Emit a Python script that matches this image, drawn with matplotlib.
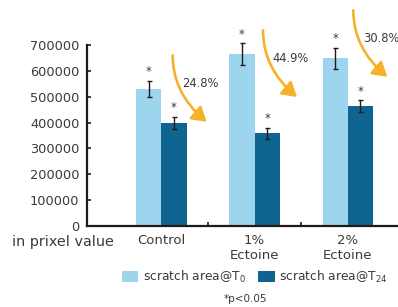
import matplotlib
matplotlib.use("Agg")
import matplotlib.pyplot as plt
import numpy as np
from matplotlib.patches import FancyArrowPatch
from matplotlib.path import Path

plt.rcParams['font.family'] = ['DejaVu Sans']
plt.rcParams['mathtext.default'] = 'regular'

categories = ['Control', '1%\nEctoine', '2%\nEctoine']
t0_values = [529000, 664000, 649000]
t0_errors = [31000, 42000, 40000]
t24_values = [398000, 359000, 463000]
t24_errors = [23000, 21000, 23000]
reductions = ['24.8%', '44.9%', '30.8%']
# where each orange arrow starts and ends (in pixel value units)
arrow_start = [660000, 757000, 834000]
arrow_end = [403000, 499000, 577000]
yticks = [0, 100000, 200000, 300000, 400000, 500000, 600000, 700000]

LIGHT = '#9DD5EF'
DARK = '#0E6690'
ORANGE = '#F6B12B'
TEXT = '#3a3a3a'
AXIS = '#231815'

fig = plt.figure(figsize=(3.98, 3.07), dpi=100)
ax = fig.add_axes([0.2186, 0.2638, 0.7814, 0.5896])

x = np.arange(len(categories))
w = 0.27
ax.bar(x - w / 2, t0_values, w, color=LIGHT, label='scratch area@T$_{0}$', zorder=2)
ax.bar(x + w / 2, t24_values, w, color=DARK, label='scratch area@T$_{24}$', zorder=2)
for xs, vals, errs in [(x - w / 2, t0_values, t0_errors), (x + w / 2, t24_values, t24_errors)]:
    eb = ax.errorbar(xs, vals, yerr=errs, fmt='none', ecolor=AXIS,
                     elinewidth=1.0, capsize=1.8, capthick=1.0, zorder=3)
    for art in eb.lines[1] + eb.lines[2]:
        art.set_clip_on(False)
    # significance stars
    for xi, v, e in zip(xs, vals, errs):
        ax.annotate('*', xy=(xi, v + e), xytext=(0, 2), textcoords='offset points',
                    ha='center', va='bottom', fontsize=8.5, color=TEXT,
                    annotation_clip=False)

# curved arrows with reduction percentages (arrows drift slightly left of the bar groups)
for i, (xi, y0, y1, lab) in enumerate(zip(x, arrow_start, arrow_end, reductions)):
    x0 = xi + 0.12 - 0.03 * i
    x1 = x0 + 0.365
    ctrl = (x0, y0 - 0.57 * (y0 - y1))
    path = Path([(x0, y0), ctrl, (x1, y1)], [Path.MOVETO, Path.CURVE3, Path.CURVE3])
    arr = FancyArrowPatch(path=path, arrowstyle='-|>,head_length=8.5,head_width=5.2',
                          mutation_scale=1, color=ORANGE, lw=1.9, zorder=4,
                          transform=ax.transData, clip_on=False)
    ax.add_patch(arr)
    ax.annotate(lab, xy=(x0, y0), xytext=(7, -20), textcoords='offset points',
                ha='left', va='center', fontsize=8.3, color=TEXT, annotation_clip=False)

ax.set_xlim(-0.80, 2.54)
ax.set_ylim(0, 700000)
ax.set_yticks(yticks)
ax.set_yticklabels([str(t) for t in yticks])
ax.tick_params(axis='y', direction='in', length=3, width=1.2, color=AXIS,
               labelsize=9.3, labelcolor=TEXT, pad=5.5)
ax.set_xticks(x)
ax.set_xticklabels(categories, fontsize=9.5, color=TEXT, linespacing=1.25)
ax.tick_params(axis='x', which='major', length=0, pad=5.5)
ax.set_xticks([0.5, 1.5], minor=True)
ax.tick_params(axis='x', which='minor', direction='in', length=3, width=1.2, color=AXIS)

for s in ['top', 'right']:
    ax.spines[s].set_visible(False)
for s in ['left', 'bottom']:
    ax.spines[s].set_linewidth(1.6)
    ax.spines[s].set_color(AXIS)

fig.text(12 / 398, 1 - 242 / 307, 'in prixel value', fontsize=10.4, color=TEXT,
         ha='left', va='center')

fig.legend(loc='center', bbox_to_anchor=(0.64, 0.099), ncol=2, frameon=False,
           fontsize=8.8, handlelength=1.35, handleheight=0.95, handletextpad=0.35,
           columnspacing=1.0, labelcolor=TEXT)

fig.text(246 / 398, 1 - 299 / 307, '*p<0.05', fontsize=7.5, color=TEXT,
         ha='center', va='center')

fig.savefig('out.png', dpi=100)
